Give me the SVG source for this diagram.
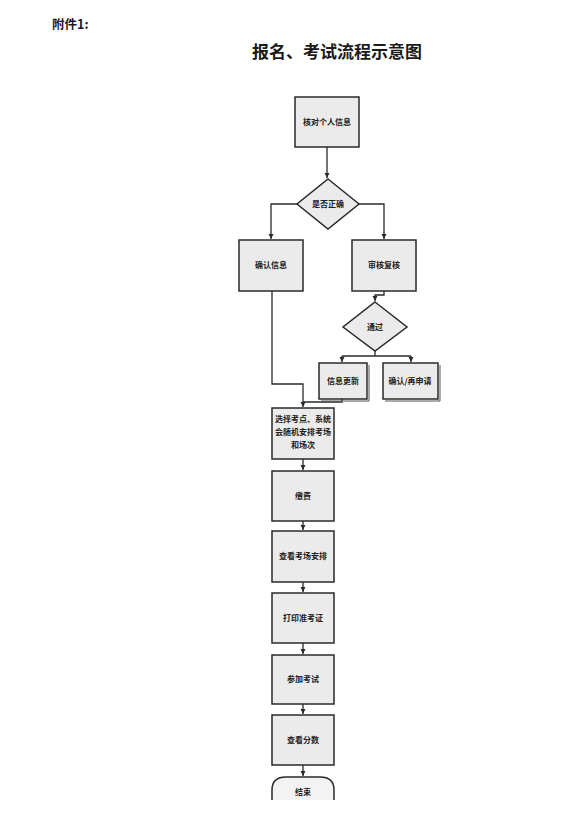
<svg xmlns="http://www.w3.org/2000/svg" width="573" height="817" viewBox="0 0 573 817">
<defs>
<style>
.box{fill:#ebebeb;stroke:#2a2a2a;stroke-width:1.5}
.sh{fill:none;stroke:#555;stroke-width:1}
.t{font-family:"Noto Sans CJK SC","Noto Sans",sans-serif;font-size:8px;font-weight:bold;fill:#222;text-anchor:middle}
.ln{fill:none;stroke:#2a2a2a;stroke-width:1.3}
.head{font-family:"Noto Sans CJK SC","Liberation Serif",serif;font-weight:bold;fill:#1a1a1a}
</style>
<marker id="ar" markerWidth="6" markerHeight="6" refX="5" refY="3" orient="auto" markerUnits="userSpaceOnUse">
<path d="M0,0.5 L5,3 L0,5.5 Z" fill="#2a2a2a"/>
</marker>
</defs>
<rect width="573" height="817" fill="#ffffff"/>
<text class="head" x="52" y="29" font-size="12.5">附件1:</text>
<text class="head" x="252" y="58" font-size="17">报名、考试流程示意图</text>

<g id="connectors">
<path class="ln" d="M327,147 L327,178" marker-end="url(#ar)"/>
<path class="ln" d="M297,204 L271,204 L271,239" marker-end="url(#ar)"/>
<path class="ln" d="M359,204 L384,204 L384,239" marker-end="url(#ar)"/>
<path class="ln" d="M384,291 L384,295 L375,295 L375,301" marker-end="url(#ar)"/>
<path class="ln" d="M375,351 L375,356"/>
<path class="ln" d="M342,356 L411,356"/>
<path class="ln" d="M342,356 L342,362" marker-end="url(#ar)"/>
<path class="ln" d="M411,356 L411,362" marker-end="url(#ar)"/>
<path class="ln" d="M272,291 L272,384 L303,384 L303,407" marker-end="url(#ar)"/>
<path class="ln" d="M342,399 L342,402 L303,402"/>
<path class="ln" d="M303,459 L303,470" marker-end="url(#ar)"/>
<path class="ln" d="M303,521 L303,530" marker-end="url(#ar)"/>
<path class="ln" d="M303,582 L303,592" marker-end="url(#ar)"/>
<path class="ln" d="M303,643 L303,654" marker-end="url(#ar)"/>
<path class="ln" d="M303,704 L303,714" marker-end="url(#ar)"/>
<path class="ln" d="M303,765 L303,776" marker-end="url(#ar)"/>
</g>

<g id="n_check">
<rect class="box" x="295" y="97" width="64" height="50"/>
<text class="t" x="327" y="125">核对个人信息</text>
</g>
<g id="n_correct">
<polygon class="box" points="328,179 359,204 328,229 297,204"/>
<text class="t" x="328" y="207">是否正确</text>
</g>
<g id="n_confirm">
<rect class="box" x="239" y="240" width="64" height="51"/>
<text class="t" x="271" y="268">确认信息</text>
</g>
<g id="n_review">
<rect class="box" x="352" y="240" width="64" height="51"/>
<text class="t" x="384" y="268">审核复核</text>
</g>
<g id="n_pass">
<polygon class="box" points="375,302 407,327 375,351 343,327"/>
<text class="t" x="375" y="330">通过</text>
</g>
<g id="n_update">
<path class="sh" d="M369,365 L369,401 L321,401"/>
<rect class="box" x="319" y="363" width="48" height="36"/>
<text class="t" x="343" y="384">信息更新</text>
</g>
<g id="n_reapply">
<path class="sh" d="M440,365 L440,401 L385,401"/>
<rect class="box" x="383" y="363" width="55" height="36"/>
<text class="t" x="410" y="384">确认/再申请</text>
</g>
<g id="n_select">
<rect class="box" x="272" y="408" width="62" height="51"/>
<text class="t" x="303" y="422">选择考点、系统</text>
<text class="t" x="303" y="435">会随机安排考场</text>
<text class="t" x="303" y="448">和场次</text>
</g>
<g id="n_pay">
<rect class="box" x="272" y="471" width="62" height="50"/>
<text class="t" x="303" y="499">缴费</text>
</g>
<g id="n_arrange">
<rect class="box" x="272" y="531" width="62" height="51"/>
<text class="t" x="303" y="559">查看考场安排</text>
</g>
<g id="n_print">
<rect class="box" x="272" y="593" width="62" height="50"/>
<text class="t" x="303" y="621">打印准考证</text>
</g>
<g id="n_exam">
<rect class="box" x="272" y="655" width="62" height="49"/>
<text class="t" x="303" y="682">参加考试</text>
</g>
<g id="n_score">
<rect class="box" x="272" y="715" width="62" height="50"/>
<text class="t" x="303" y="743">查看分数</text>
</g>
<g id="n_end">
<path d="M272,800 L272,790 Q272,777 286,777 L320,777 Q334,777 334,790 L334,800" fill="#f3f3f3" stroke="#2a2a2a" stroke-width="1.5"/>
<text class="t" x="303" y="795">结束</text>
</g>
</svg>
